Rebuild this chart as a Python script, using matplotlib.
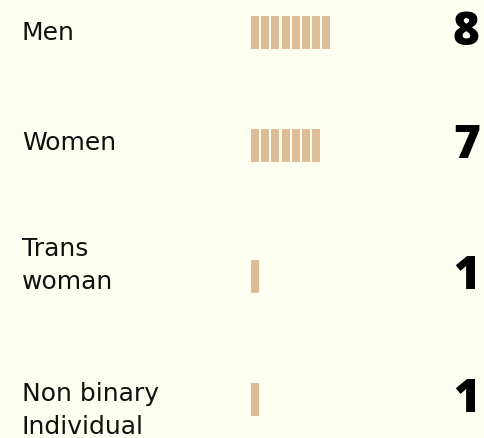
import matplotlib
matplotlib.use("Agg")
import matplotlib.pyplot as plt
import numpy as np

categories = ["Men", "Women", "Trans\nwoman", "Non binary\nIndividual"]
counts = [8, 7, 1, 1]

bg = "#FDFFF0"
bar_color = "#DEBC97"

fig = plt.figure(figsize=(4.84, 4.38), dpi=100, facecolor=bg)
ax = fig.add_axes([0, 0, 1, 1])
ax.set_facecolor(bg)
ax.set_xlim(0, 484)
ax.set_ylim(438, 0)
ax.axis("off")

row_y = [32.5, 145.5, 276.5, 399.5]
label_base = [39.5, 150, 256, 401]
line_step = 33

for y, lb, name, n in zip(row_y, label_base, categories, counts):
    # one small bar per person
    xs = 251 + np.arange(n) * 10.2
    ax.bar(xs, 33, bottom=y - 16.5, width=8, align="edge", color=bar_color, linewidth=0)
    for i, line in enumerate(name.split("\n")):
        ax.text(22, lb + i * line_step, line, fontsize=18, family="DejaVu Sans",
                color="#111111", va="baseline", ha="left")
    ax.text(453, y + 12.5, str(n), fontsize=33, family="Open Sans", fontweight="heavy",
            color="black", va="baseline", ha="left")

fig.savefig("out.png", dpi=100, facecolor=bg)
